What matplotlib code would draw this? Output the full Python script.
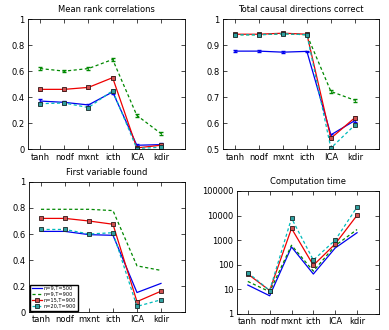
import numpy as np
import matplotlib
matplotlib.use('Agg')
import matplotlib.pyplot as plt
from matplotlib.ticker import FixedLocator, FormatStrFormatter

plt.rcParams['font.family'] = 'DejaVu Sans'
plt.rcParams['xtick.direction'] = 'in'
plt.rcParams['ytick.direction'] = 'in'
plt.rcParams['xtick.top'] = True
plt.rcParams['ytick.right'] = True

#Categories and series labels
methods = ['tanh', 'nodf', 'mxnt', 'icth', 'ICA', 'kdir']
labels = ['n=9,T=500', 'n=9,T=900', 'n=15,T=900', 'n=20,T=900']

#Mean rank correlations
rank_a = [0.37, 0.36, 0.34, 0.44, 0.03, 0.035]
rank_b = [0.62, 0.60, 0.62, 0.69, 0.26, 0.12]
rank_c = [0.46, 0.46, 0.475, 0.55, 0.01, 0.03]
rank_d = [0.35, 0.355, 0.32, 0.45, 0.005, 0.015]
rank_err = [0.012, 0.010, 0.010, 0.012, 0.012, 0.012]

#Total causal directions correct
dir_a = [0.877, 0.877, 0.873, 0.876, 0.555, 0.61]
dir_b = [0.94, 0.94, 0.944, 0.94, 0.722, 0.688]
dir_c = [0.942, 0.942, 0.946, 0.942, 0.542, 0.621]
dir_d = [0.94, 0.94, 0.944, 0.94, 0.504, 0.593]
dir_err = [0.003, 0.003, 0.003, 0.003, 0.005, 0.005]

#First variable found
first_a = [0.62, 0.62, 0.595, 0.59, 0.15, 0.22]
first_b = [0.79, 0.79, 0.79, 0.78, 0.355, 0.32]
first_c = [0.72, 0.72, 0.70, 0.675, 0.08, 0.16]
first_d = [0.635, 0.635, 0.60, 0.61, 0.043, 0.094]

#Computation time
time_a = [15, 5.5, 530, 42, 480, 2000]
time_b = [21, 8, 620, 55, 600, 2700]
time_c = [42, 9, 3000, 95, 700, 10200]
time_d = [48, 9, 7800, 155, 1000, 22000]

x = np.arange(1, len(methods) + 1)

fig = plt.figure(figsize=(3.89, 3.30), dpi=100)
ax1 = fig.add_axes([0.072, 0.548, 0.404, 0.394])
ax2 = fig.add_axes([0.573, 0.548, 0.401, 0.394])
ax3 = fig.add_axes([0.0745, 0.0545, 0.401, 0.394])
ax4 = fig.add_axes([0.609, 0.0485, 0.365, 0.373])

styles = [
    dict(color='#0000ee', linestyle='-'),
    dict(color='#008800', linestyle=(0, (2.5, 2))),
    dict(color='#ee0000', linestyle='-', marker='s', markersize=3, mfc='#d05050', mec='#301818', mew=0.6),
    dict(color='#00bbbb', linestyle=(0, (2.5, 2)), marker='s', markersize=3, mfc='#30a0a0', mec='#182828', mew=0.6),
]

def draw(ax, series, err=None):
    for s, st, lab in zip(series, styles, labels):
        if err is None:
            ax.plot(x, s, lw=0.9, label=lab, **st)
        else:
            ax.errorbar(x, s, yerr=err, lw=0.9, elinewidth=0.6, capsize=1.5, label=lab, **st)

draw(ax1, [rank_a, rank_b, rank_c, rank_d], rank_err)
ax1.set_ylim(0, 1)
ax1.set_yticks([0, 0.2, 0.4, 0.6, 0.8, 1])
ax1.set_yticklabels(['0', '0.2', '0.4', '0.6', '0.8', '1'])
ax1.set_title('Mean rank correlations', fontsize=6, pad=5)

draw(ax2, [dir_a, dir_b, dir_c, dir_d], dir_err)
ax2.set_ylim(0.5, 1)
ax2.set_yticks([0.5, 0.6, 0.7, 0.8, 0.9, 1])
ax2.set_yticklabels(['0.5', '0.6', '0.7', '0.8', '0.9', '1'])
ax2.set_title('Total causal directions correct', fontsize=6, pad=5)

draw(ax3, [first_a, first_b, first_c, first_d])
ax3.set_ylim(0, 1)
ax3.set_yticks([0, 0.2, 0.4, 0.6, 0.8, 1])
ax3.set_yticklabels(['0', '0.2', '0.4', '0.6', '0.8', '1'])
ax3.set_title('First variable found', fontsize=6, pad=5)
ax3.legend(loc='lower left', fontsize=3.6, handlelength=2.0, borderpad=0.3,
           labelspacing=0.2, handletextpad=0.4, borderaxespad=0.3,
           fancybox=False, edgecolor='k', framealpha=1)

draw(ax4, [time_a, time_b, time_c, time_d])
ax4.set_yscale('log')
ax4.set_ylim(1, 100000)
ax4.yaxis.set_major_locator(FixedLocator([1, 10, 100, 1000, 10000, 100000]))
ax4.yaxis.set_major_formatter(FormatStrFormatter('%d'))
ax4.yaxis.set_minor_locator(FixedLocator([]))
ax4.set_title('Computation time', fontsize=6, pad=5)

for ax in [ax1, ax2, ax3, ax4]:
    ax.set_xlim(0.5, 7)
    ax.set_xticks(x)
    ax.set_xticklabels(methods)
    ax.tick_params(labelsize=6, length=3, width=0.5, pad=2.5)
    for sp in ax.spines.values():
        sp.set_linewidth(0.6)

plt.savefig('out.png', dpi=100)
